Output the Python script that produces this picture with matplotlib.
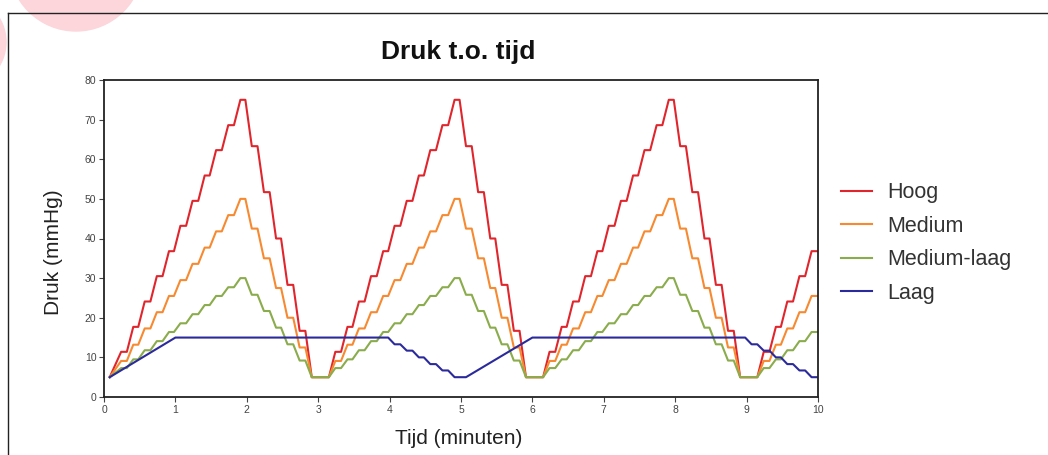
import matplotlib
matplotlib.use('Agg')
import matplotlib.pyplot as plt
from matplotlib.patches import Ellipse
from matplotlib.lines import Line2D

W, H = 1048, 455

# Plateaus of the staircase pump cycles (start / end time in minutes)
plateau_start = [0.08,
                 0.24, 0.41, 0.57, 0.74, 0.91, 1.07, 1.24, 1.41, 1.57, 1.74, 1.91,
                 2.07, 2.24, 2.41, 2.57, 2.74, 2.91,
                 3.24, 3.41, 3.57, 3.74, 3.91, 4.07, 4.24, 4.41, 4.57, 4.74, 4.91,
                 5.07, 5.24, 5.41, 5.57, 5.74, 5.91,
                 6.24, 6.41, 6.57, 6.74, 6.91, 7.07, 7.24, 7.41, 7.57, 7.74, 7.91,
                 8.07, 8.24, 8.41, 8.57, 8.74, 8.91,
                 9.24, 9.41, 9.57, 9.74, 9.91]
plateau_end = [0.08,
               0.32, 0.48, 0.65, 0.82, 0.98, 1.15, 1.32, 1.48, 1.65, 1.82, 1.98,
               2.15, 2.32, 2.48, 2.65, 2.82, 3.15,
               3.32, 3.48, 3.65, 3.82, 3.98, 4.15, 4.32, 4.48, 4.65, 4.82, 4.98,
               5.15, 5.32, 5.48, 5.65, 5.82, 6.15,
               6.32, 6.48, 6.65, 6.82, 6.98, 7.15, 7.32, 7.48, 7.65, 7.82, 7.98,
               8.15, 8.32, 8.48, 8.65, 8.82, 9.15,
               9.32, 9.48, 9.65, 9.82, 10.0]

hoog = [5,
        11.4, 17.7, 24.1, 30.5, 36.8, 43.2, 49.5, 55.9, 62.3, 68.6, 75.0,
        63.3, 51.7, 40.0, 28.3, 16.7, 5,
        11.4, 17.7, 24.1, 30.5, 36.8, 43.2, 49.5, 55.9, 62.3, 68.6, 75.0,
        63.3, 51.7, 40.0, 28.3, 16.7, 5,
        11.4, 17.7, 24.1, 30.5, 36.8, 43.2, 49.5, 55.9, 62.3, 68.6, 75.0,
        63.3, 51.7, 40.0, 28.3, 16.7, 5,
        11.4, 17.7, 24.1, 30.5, 36.8]
medium = [5,
          9.1, 13.2, 17.3, 21.4, 25.5, 29.5, 33.6, 37.7, 41.8, 45.9, 50.0,
          42.5, 35.0, 27.5, 20.0, 12.5, 5,
          9.1, 13.2, 17.3, 21.4, 25.5, 29.5, 33.6, 37.7, 41.8, 45.9, 50.0,
          42.5, 35.0, 27.5, 20.0, 12.5, 5,
          9.1, 13.2, 17.3, 21.4, 25.5, 29.5, 33.6, 37.7, 41.8, 45.9, 50.0,
          42.5, 35.0, 27.5, 20.0, 12.5, 5,
          9.1, 13.2, 17.3, 21.4, 25.5]
medium_laag = [5,
               7.3, 9.5, 11.8, 14.1, 16.4, 18.6, 20.9, 23.2, 25.5, 27.7, 30.0,
               25.8, 21.7, 17.5, 13.3, 9.2, 5,
               7.3, 9.5, 11.8, 14.1, 16.4, 18.6, 20.9, 23.2, 25.5, 27.7, 30.0,
               25.8, 21.7, 17.5, 13.3, 9.2, 5,
               7.3, 9.5, 11.8, 14.1, 16.4, 18.6, 20.9, 23.2, 25.5, 27.7, 30.0,
               25.8, 21.7, 17.5, 13.3, 9.2, 5,
               7.3, 9.5, 11.8, 14.1, 16.4]

laag_t = [0.08, 1.0, 3.98, 4.07, 4.15, 4.24, 4.32, 4.41, 4.48, 4.57, 4.65,
          4.74, 4.82, 4.91, 5.07, 6.0, 8.98, 9.07, 9.15, 9.24, 9.32, 9.41,
          9.48, 9.57, 9.65, 9.74, 9.82, 9.91, 10.0]
laag_v = [5, 15, 15, 13.3, 13.3, 11.7, 11.7, 10, 10, 8.3, 8.3, 6.7, 6.7,
          5, 5, 15, 15, 13.3, 13.3, 11.7, 11.7, 10, 10, 8.3, 8.3, 6.7, 6.7, 5, 5]

series_names = ['Hoog', 'Medium', 'Medium-laag', 'Laag']
series_colors = ['#e0262c', '#f78a30', '#8aac4c', '#2b2a9c']
x_ticks = list(range(0, 11))
y_ticks = list(range(0, 81, 10))


def stair(values):
    xs, ys = [], []
    for s, e, v in zip(plateau_start, plateau_end, values):
        xs += [s, e]
        ys += [v, v]
    return xs, ys


fig = plt.figure(figsize=(W / 100, H / 100), dpi=100)

# decorative pink blobs
fig.add_artist(Ellipse((76 / W, 1 + 36 / H), 2 * 67 / W, 2 * 67 / H,
                       transform=fig.transFigure, color='#fcd6db', zorder=0))
fig.add_artist(Ellipse((-40 / W, 1 - 42 / H), 2 * 46 / W, 2 * 46 / H,
                       transform=fig.transFigure, color='#fcd6db', zorder=0))
# outer frame (left and top)
fig.add_artist(Line2D([8 / W, 8 / W], [0, 1 - 13 / H], transform=fig.transFigure,
                      color='#222222', lw=1.0))
fig.add_artist(Line2D([8 / W, 1], [1 - 13 / H, 1 - 13 / H], transform=fig.transFigure,
                      color='#222222', lw=1.0))

ax = fig.add_axes([104 / W, 1 - 397 / H, (818 - 104) / W, (397 - 80) / H])

for name, col, vals in zip(series_names[:3], series_colors[:3], [hoog, medium, medium_laag]):
    xs, ys = stair(vals)
    ax.plot(xs, ys, color=col, lw=1.5, label=name)
ax.plot(laag_t, laag_v, color=series_colors[3], lw=1.5, label=series_names[3])

ax.set_xlim(0, 10)
ax.set_ylim(0, 80)
ax.set_xticks(x_ticks)
ax.set_yticks(y_ticks)
tick_font = ['Liberation Sans Narrow', 'Liberation Sans', 'DejaVu Sans']
for lab in ax.get_xticklabels() + ax.get_yticklabels():
    lab.set_family(tick_font)
    lab.set_fontsize(7.5)
    lab.set_color('#444444')
ax.tick_params(axis='both', length=3.5, width=0.8, color='#444444', pad=2)
for sp in ax.spines.values():
    sp.set_linewidth(1.3)
    sp.set_color('#222222')

label_font = ['Liberation Sans', 'DejaVu Sans']
ax.set_xlabel('Tijd (minuten)', fontsize=15, family=label_font, color='#222222')
ax.xaxis.set_label_coords((459 - 104) / 714, (397 - 429) / 317)
ax.set_ylabel('Druk (mmHg)', fontsize=15, family=label_font, color='#222222')
ax.yaxis.set_label_coords((63 - 104) / 714, (397 - 252) / 317)
fig.text(458 / W, 1 - 52 / H, 'Druk t.o. tijd', ha='center', va='center',
         fontsize=19, fontweight='bold', family=label_font, color='#111111')

leg = fig.legend(loc='upper left', bbox_to_anchor=(822 / W, 1 - 163 / H),
                 frameon=False, prop={'family': label_font, 'size': 15.5},
                 handlelength=1.4, handletextpad=0.75, labelspacing=0.58)
for t in leg.get_texts():
    t.set_color('#333333')

fig.savefig('out.png', dpi=100)
